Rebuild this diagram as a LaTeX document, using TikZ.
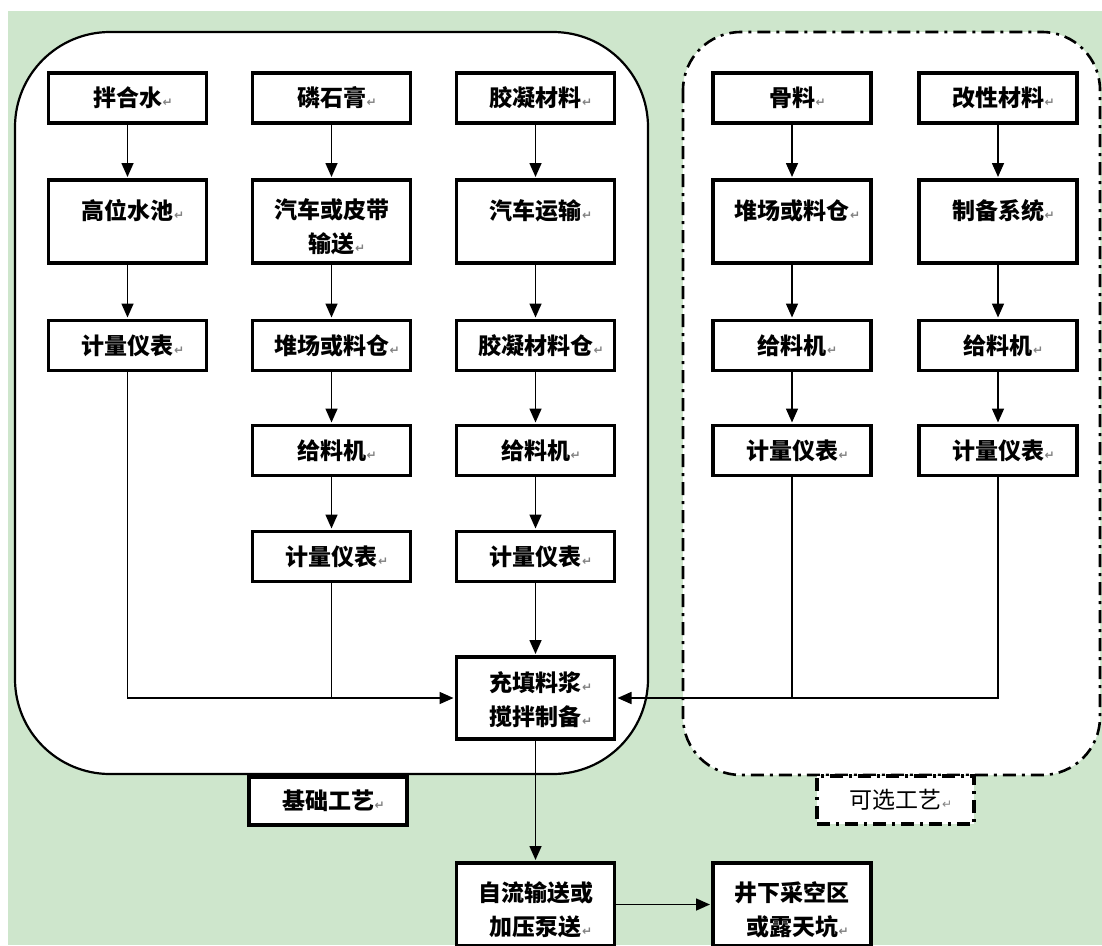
\documentclass[tikz,border=0pt]{standalone}
\usepackage{fontspec}
\newfontfamily\cjk{Noto Sans CJK SC}
\newfontfamily\symf{DejaVu Sans}
\usetikzlibrary{arrows.meta}
\definecolor{bggreen}{RGB}{206,230,204}
\definecolor{retgray}{RGB}{130,130,130}
\newcommand\myret{\rlap{\kern0.5pt\textcolor{retgray}{\symf\fontsize{12}{12}\selectfont ↵}}}
\newcommand\tstrut{\rule{0pt}{30pt}}
\newcommand\mstrut{\rule{0pt}{23pt}}
\begin{document}
\begin{tikzpicture}[x=1pt,y=-1pt,
  box/.style={draw, line width=3.2pt, fill=white, minimum width=158pt, inner sep=0pt, align=center,
    font=\cjk\bfseries\fontsize{23}{34}\selectfont},
  hA/.style={minimum height=50pt},
  hB/.style={minimum height=83pt},
  conn/.style={line width=1.6pt},
  arr/.style={conn, -{Triangle[length=14pt,width=12pt]}, shorten >=1.4pt},
  dashdot/.style={dash pattern=on 13pt off 6pt on 3pt off 6pt},
]
\useasboundingbox (0,0) rectangle (1102,945);
\fill[bggreen] (8,11) rectangle (1102,945);
% process groups
\draw[line width=2.2pt, fill=white, rounded corners=95pt] (15,32) rectangle (648,774);
\draw[line width=2.6pt, fill=white, rounded corners=58pt, dashdot] (683,32) rectangle (1100,775);

% column 1
\node[box,hA] (a1) at (127.5,98) {拌合水\myret};
\node[box,hB] (a2) at (127.5,221.5) {\tstrut 高位水池\myret\\\mbox{}};
\node[box,hA] (a3) at (127.5,345.5) {计量仪表\myret};
% column 2
\node[box,hA] (b1) at (331.5,98) {磷石膏\myret};
\node[box,hB] (b2) at (331.5,221.5) {\tstrut 汽车或皮带\\输送\myret};
\node[box,hA] (b3) at (331.5,345.5) {堆场或料仓\myret};
\node[box,hA] (b4) at (331.5,450.5) {给料机\myret};
\node[box,hA] (b5) at (331.5,556.5) {计量仪表\myret};
% column 3
\node[box,hA] (k1) at (535.5,98) {胶凝材料\myret};
\node[box,hB] (k2) at (535.5,221.5) {\tstrut 汽车运输\myret\\\mbox{}};
\node[box,hA] (k3) at (535.5,345.5) {胶凝材料仓\myret};
\node[box,hA] (k4) at (535.5,450.5) {给料机\myret};
\node[box,hA] (k5) at (535.5,556.5) {计量仪表\myret};
% column 4
\node[box,hA] (d1) at (792,98) {骨料\myret};
\node[box,hB] (d2) at (792,221.5) {\tstrut 堆场或料仓\myret\\\mbox{}};
\node[box,hA] (d3) at (792,345.5) {给料机\myret};
\node[box,hA] (d4) at (792,450.5) {计量仪表\myret};
% column 5
\node[box,hA] (e1) at (998,98) {改性材料\myret};
\node[box,hB] (e2) at (998,221.5) {\tstrut 制备系统\myret\\\mbox{}};
\node[box,hA] (e3) at (998,345.5) {给料机\myret};
\node[box,hA] (e4) at (998,450.5) {计量仪表\myret};
% mixer and output
\node[box,minimum height=82pt] (mix) at (535.5,698) {\mstrut 充填料浆\myret\\搅拌制备\myret};
\node[box,hB] (pump) at (535.5,904.5) {\tstrut 自流输送或\\加压泵送\myret};
\node[box,hB] (pit) at (792,904.5) {\tstrut 井下采空区\\或露天坑\myret};
% group labels
\node[box,minimum height=48pt] (base) at (328,801) {基础工艺\myret};
\node[box,dashdot,minimum width=157pt,minimum height=48pt,font=\cjk\fontsize{23}{34}\selectfont] (opt) at (895.5,800) {可选工艺\myret};

% connectors
\foreach \u/\v in {a1/a2,a2/a3,b1/b2,b2/b3,b3/b4,b4/b5,k1/k2,k2/k3,k3/k4,k4/k5,k5/mix,d1/d2,d2/d3,d3/d4,e1/e2,e2/e3,e3/e4,mix/pump}
  \draw[arr] (\u.south) -- (\v.north);
\draw[arr] (a3.south) |- (mix.west);
\draw[conn] (b5.south) -- (b5.south |- mix.west);
\draw[conn] (d4.south) -- (d4.south |- mix.east);
\draw[arr] (e4.south) |- (mix.east);
\draw[arr] (pump.east) -- (pit.west);
\end{tikzpicture}
\end{document}
